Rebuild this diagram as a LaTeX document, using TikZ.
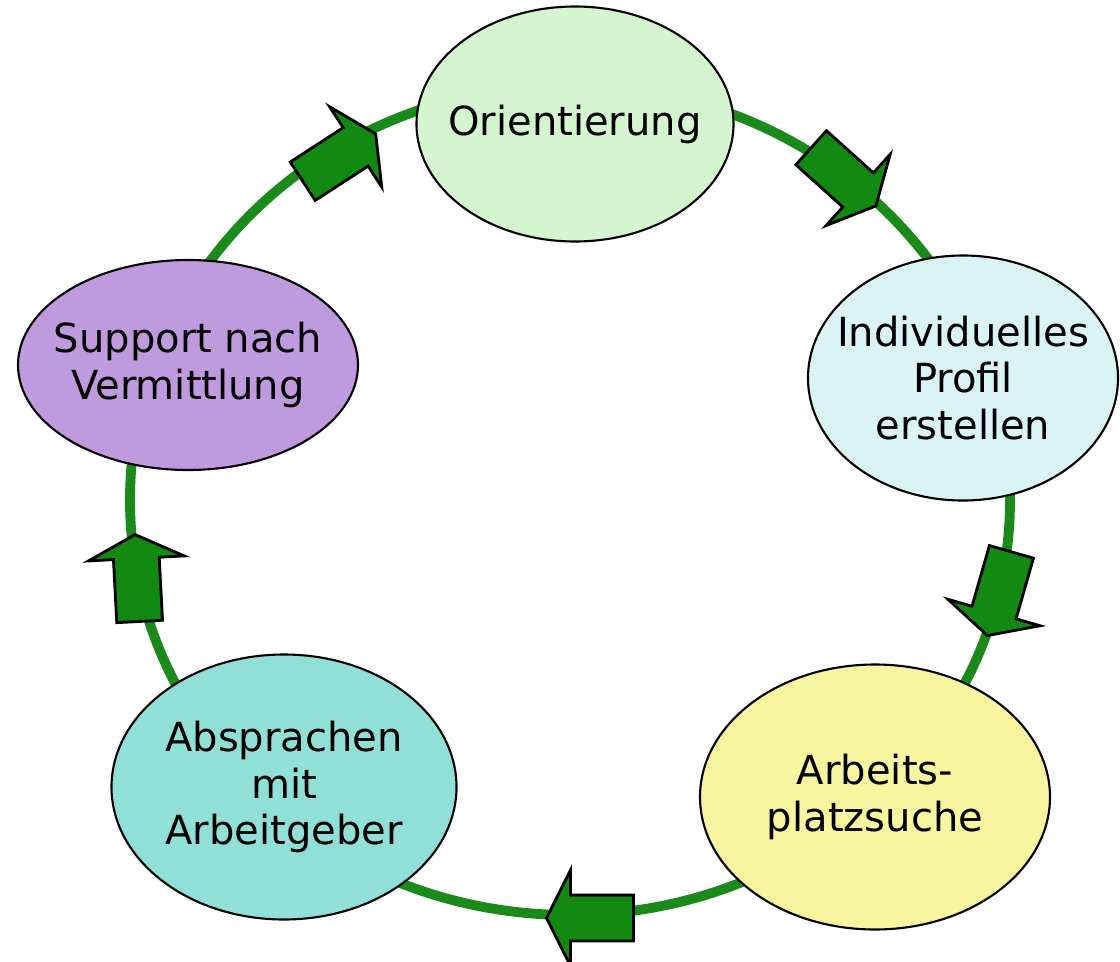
\documentclass[tikz,border=0pt]{standalone}
\usepackage{fontspec}
\setmainfont{DejaVu Sans}
\usetikzlibrary{shapes.geometric,shapes.arrows}
\definecolor{ringgreen}{HTML}{1A8A1A}
\definecolor{arrowgreen}{HTML}{128A12}
\definecolor{orientfill}{HTML}{D5F5D0}
\definecolor{profilfill}{HTML}{D9F4F2}
\definecolor{suchefill}{HTML}{F7F59F}
\definecolor{absprachefill}{HTML}{90E0D8}
\definecolor{supportfill}{HTML}{C09ADE}
\begin{document}
\begin{tikzpicture}
    \useasboundingbox (0,0) rectangle (11.2,-9.61);
    \coordinate (ring) at (5.70,-5.00);
    \draw[ringgreen, line width=2.8pt] (ring) ellipse [x radius=4.4cm, y radius=4.15cm];
    \begin{scope}
        \tikzstyle{every node}=[ellipse, draw=black, line width=0.6pt, inner sep=-1.5cm, align=center, text=black, font=\fontsize{11.4}{13.3}\selectfont]
        \node[fill=orientfill, minimum width=3.17cm, minimum height=2.35cm] (orient) at (5.75,-1.24) {Orientierung};
        \node[fill=profilfill, minimum width=3.10cm, minimum height=2.45cm] (profil) at (9.63,-3.78) {Individuelles\\Profil\\erstellen};
        \node[fill=suchefill, minimum width=3.50cm, minimum height=2.65cm] (suche) at (8.75,-7.97) {Arbeits-\\platzsuche};
        \node[fill=absprachefill, minimum width=3.45cm, minimum height=2.65cm] (absprache) at (2.84,-7.87) {Absprachen\\mit\\Arbeitgeber};
        \node[fill=supportfill, minimum width=3.40cm, minimum height=2.10cm] (support) at (1.88,-3.65) {Support nach\\Vermittlung};
    \end{scope}
    \begin{scope}
        \tikzstyle{every node}=[single arrow, draw=black, fill=arrowgreen, line width=0.8pt, inner xsep=0pt, inner ysep=0.215cm, single arrow head extend=0.25cm, single arrow tip angle=127, minimum height=0.87cm, anchor=tip]
        \node[rotate=33] (toorient) at (3.77,-1.33) {};
        \node[rotate=-42] (toprofil) at (8.77,-2.07) {};
        \node[rotate=-106] (tosuche) at (9.87,-6.37) {};
        \node[rotate=180] (toabsprache) at (5.45,-9.18) {};
        \node[rotate=93] (tosupport) at (1.35,-5.33) {};
    \end{scope}
\end{tikzpicture}
\end{document}
